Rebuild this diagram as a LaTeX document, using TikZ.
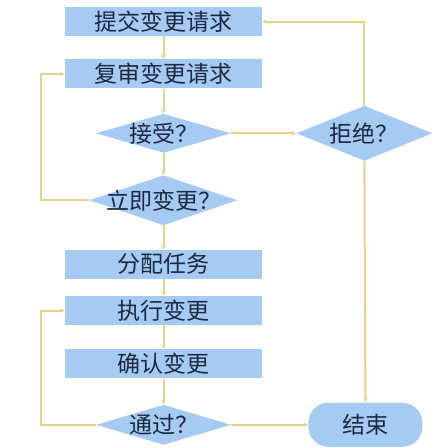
\documentclass[tikz,border=0pt]{standalone}
\usepackage{fontspec}
\newfontfamily\cjk{Noto Sans CJK SC}
\usetikzlibrary{positioning,shapes.geometric,arrows.meta}
\definecolor{boxblue}{HTML}{A6CBF2}
\definecolor{flowyellow}{HTML}{E6D38A}
\definecolor{textnavy}{HTML}{1C2742}

\begin{document}
\begin{tikzpicture}[x=1pt, y=-1pt,
    every node/.style={font=\cjk\fontsize{23}{23}\selectfont, text=textnavy},
    process/.style={rectangle, fill=boxblue, inner sep=0pt,
      minimum width=197pt, minimum height=29pt},
    decision/.style={diamond, fill=boxblue, inner sep=0pt},
    stop/.style={rectangle, rounded corners=20pt, fill=boxblue,
      minimum width=114pt, minimum height=44pt},
    flow/.style={draw=flowyellow, line width=2pt,
      -{Stealth[length=5pt, width=4.5pt]}}]
      \useasboundingbox (0,0) rectangle (433,448);
      % Define nodes
      \node[process] (submit) at (163.5,21.5) {提交变更请求};
      \node[process, below=23pt of submit] (review) {复审变更请求};
      \node[decision, minimum width=135pt, minimum height=39pt,
        below=25pt of review] (accept) {\makebox[0pt]{接受？}};
      \node[decision, minimum width=148pt, minimum height=50pt,
        below=22pt of accept] (now) {\makebox[0pt]{立即变更？}};
      \node[process, below=24pt of now] (assign) {分配任务};
      \node[process, below=17pt of assign] (exec) {执行变更};
      \node[process, below=24pt of exec] (confirm) {确认变更};
      \node[decision, minimum width=135pt, minimum height=40pt,
        below=26pt of confirm] (pass) {\makebox[0pt]{通过？}};
      \node[decision, minimum width=136pt, minimum height=55pt,
        right=65pt of accept] (reject) {\makebox[0pt]{拒绝？}};
      \node[stop, right=77pt of pass] (end) {结束};
      % Connect nodes
      \draw[flow] (submit) -- (review);
      \draw[flow] (review) -- (accept);
      \draw[flow] (accept) -- (now);
      \draw[flow] (now) -- (assign);
      \draw[flow] (assign) -- (exec);
      \draw[flow] (exec) -- (confirm);
      \draw[flow] (confirm) -- (pass);
      \draw[flow] (accept) -- (reject);
      \draw[flow] (pass) -- (end);
      \draw[flow] (reject.north) |- (submit.east);
      \draw[flow] (reject.south) -- (end.north);
      \draw[flow] (now.west) -- ++(-48,0) |- (review.west);
      \draw[flow] (pass.west) -- ++(-55,0) |- (exec.west);
    \end{tikzpicture}
\end{document}
